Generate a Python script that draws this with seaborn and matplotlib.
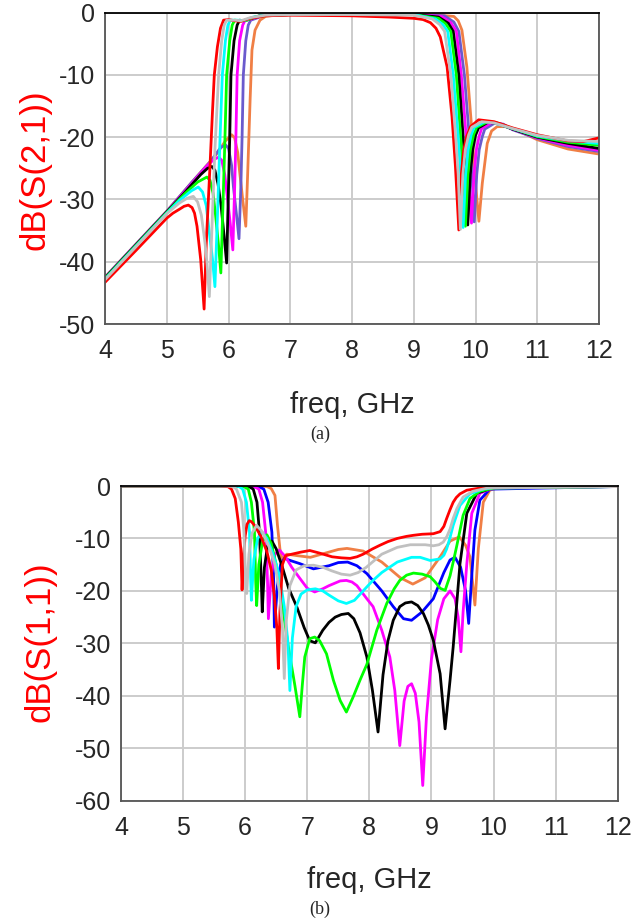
import matplotlib
matplotlib.use("Agg")
import matplotlib.pyplot as plt
import seaborn as sns
from matplotlib.ticker import MultipleLocator

sns.set_style("white")
plt.rcParams['font.family'] = ['Liberation Sans', 'DejaVu Sans']
plt.rcParams['axes.unicode_minus'] = False

# ---------------- (a) dB(S(2,1)) ----------------
S21_RED_F = [4, 4.5, 5.0, 5.1, 5.2, 5.28, 5.35, 5.41, 5.45, 5.49, 5.55, 5.605, 5.64, 5.70, 5.74, 5.77, 5.82, 5.87, 5.92, 6.0, 6.1, 6.2, 6.35, 6.6, 7.0, 8.0, 8.6, 9.0, 9.15, 9.27, 9.36, 9.43, 9.54, 9.62, 9.675, 9.73, 9.77, 9.81, 9.86, 9.92, 10.05, 10.3, 10.6, 11.0, 11.5, 11.75, 12]
S21_RED_DB = [-43.3, -38.2, -33.0, -32.2, -31.6, -31.1, -30.9, -31.3, -32.2, -34.3, -39.7, -47.6, -37, -24.7, -16, -10, -5.5, -2.5, -1.2, -1.1, -1.3, -1.4, -0.9, -0.5, -0.4, -0.5, -0.7, -0.9, -1.1, -1.6, -2.5, -3.9, -8.7, -16.7, -24.7, -34.9, -26, -22, -19.8, -18.3, -17.2, -17.5, -18.5, -19.6, -20.6, -20.7, -20.1]

S21_SILVER_F = [4, 4.5, 5.0, 5.2, 5.33, 5.43, 5.5, 5.56, 5.62, 5.65, 5.69, 5.73, 5.78, 5.84, 5.89, 5.93, 5.97, 6.1, 6.2, 6.35, 6.6, 7.0, 8.0, 9.0, 9.3, 9.42, 9.5, 9.6, 9.68, 9.72, 9.755, 9.795, 9.835, 9.89, 9.94, 10.1, 10.3, 10.6, 11.0, 11.5, 12]
S21_SILVER_DB = [-42.9, -37.6, -32.3, -30.6, -29.8, -29.5, -30.4, -32.5, -37, -40, -45.6, -35, -22, -10, -4.5, -2, -1.2, -1.2, -1.3, -0.8, -0.4, -0.3, -0.3, -0.4, -1.0, -1.9, -3.0, -10, -20, -26, -34.8, -26, -22, -19.6, -18.4, -17.5, -17.7, -18.6, -19.7, -20.5, -20.7]

S21_CYAN_F = [4, 4.5, 5.0, 5.2, 5.4, 5.51, 5.58, 5.64, 5.68, 5.74, 5.78, 5.82, 5.86, 5.90, 5.95, 5.99, 6.03, 6.15, 6.25, 6.4, 6.6, 7.0, 8.0, 9.0, 9.35, 9.47, 9.55, 9.64, 9.72, 9.76, 9.80, 9.84, 9.88, 9.93, 9.98, 10.15, 10.3, 10.6, 11.0, 11.5, 12]
S21_CYAN_DB = [-42.8, -37.5, -32.2, -30.2, -28.6, -28.0, -28.8, -31, -34.5, -39.5, -44.0, -33, -21, -10, -4.5, -2, -1.2, -1.2, -1.3, -0.7, -0.4, -0.3, -0.3, -0.3, -1.0, -1.9, -3.0, -10, -20, -26, -34.5, -26, -22, -19.6, -18.4, -17.5, -17.7, -18.6, -19.8, -20.6, -21.0]

S21_GREEN_F = [4, 4.5, 5.0, 5.3, 5.5, 5.65, 5.7, 5.75, 5.79, 5.84, 5.876, 5.91, 5.94, 5.97, 6.02, 6.06, 6.10, 6.2, 6.3, 6.45, 6.7, 7.0, 8.0, 9.0, 9.4, 9.52, 9.6, 9.69, 9.76, 9.80, 9.837, 9.877, 9.917, 9.97, 10.02, 10.2, 10.35, 10.6, 11.0, 11.5, 12]
S21_GREEN_DB = [-42.7, -37.4, -32.1, -29.0, -27.2, -26.4, -26.9, -29, -32.5, -37.5, -41.8, -31, -21, -10, -4.5, -2, -1.2, -1.3, -1.2, -0.6, -0.4, -0.3, -0.3, -0.3, -0.9, -1.8, -3.0, -10, -20, -26, -34.3, -26, -22, -19.6, -18.4, -17.5, -17.7, -18.6, -19.9, -20.8, -21.3]

S21_BLACK_F = [4, 4.5, 5.0, 5.3, 5.55, 5.66, 5.73, 5.78, 5.83, 5.88, 5.93, 5.97, 6.0, 6.02, 6.04, 6.09, 6.14, 6.18, 6.25, 6.35, 6.5, 6.7, 7.0, 8.0, 9.0, 9.4, 9.56, 9.64, 9.73, 9.80, 9.84, 9.875, 9.915, 9.955, 10.0, 10.05, 10.2, 10.35, 10.6, 11.0, 11.5, 12]
S21_BLACK_DB = [-42.6, -37.3, -32.0, -28.8, -26.0, -25.0, -24.7, -25.3, -27.5, -31, -36, -40.2, -28, -20, -10, -4.5, -2, -1.2, -1.3, -1.0, -0.5, -0.4, -0.3, -0.3, -0.3, -0.7, -1.7, -3.0, -10, -20, -26, -34.1, -26, -22, -19.7, -18.5, -17.6, -17.8, -18.7, -20.0, -21.0, -21.8]

S21_MAGENTA_F = [4, 4.5, 5.0, 5.4, 5.65, 5.76, 5.84, 5.89, 5.94, 5.98, 6.03, 6.07, 6.10, 6.12, 6.14, 6.18, 6.23, 6.27, 6.35, 6.45, 6.6, 6.8, 7.0, 8.0, 9.0, 9.45, 9.6, 9.69, 9.77, 9.85, 9.89, 9.935, 9.975, 10.015, 10.06, 10.1, 10.25, 10.4, 10.6, 11.0, 11.5, 12]
S21_MAGENTA_DB = [-42.6, -37.3, -32.0, -27.5, -24.6, -23.6, -23.2, -23.7, -26, -29.5, -34, -38.1, -28, -20, -10, -4.5, -2, -1.2, -1.1, -0.7, -0.4, -0.3, -0.3, -0.3, -0.3, -0.6, -1.6, -3.0, -10, -20, -26, -33.8, -26, -22, -19.8, -18.6, -17.7, -17.8, -18.7, -20.1, -21.3, -22.1]

S21_PURPLE_F = [4, 4.5, 5.0, 5.4, 5.7, 5.87, 5.95, 6.0, 6.05, 6.08, 6.13, 6.17, 6.2, 6.22, 6.24, 6.28, 6.32, 6.36, 6.45, 6.55, 6.7, 7.0, 8.0, 9.0, 9.5, 9.65, 9.73, 9.82, 9.90, 9.94, 9.98, 10.02, 10.06, 10.11, 10.15, 10.3, 10.45, 10.6, 11.0, 11.5, 12]
S21_PURPLE_DB = [-42.5, -37.2, -31.9, -27.3, -24.0, -21.7, -21.2, -21.8, -24.5, -28, -32.5, -36.3, -28, -20, -10, -4.5, -2, -1.2, -0.9, -0.5, -0.4, -0.3, -0.3, -0.3, -0.5, -1.5, -3.0, -10, -20, -26, -33.6, -26, -22, -19.9, -18.7, -17.8, -17.9, -18.8, -20.2, -21.5, -22.3]

S21_CORAL_F = [4, 4.5, 5.0, 5.4, 5.8, 5.95, 6.05, 6.1, 6.15, 6.18, 6.23, 6.28, 6.31, 6.33, 6.35, 6.38, 6.43, 6.51, 6.6, 6.75, 7.0, 8.0, 9.0, 9.3, 9.65, 9.72, 9.78, 9.86, 9.945, 10.0, 10.055, 10.11, 10.19, 10.26, 10.35, 10.5, 10.7, 11.0, 11.5, 12]
S21_CORAL_DB = [-42.5, -37.2, -31.9, -27.3, -22.8, -20.6, -19.6, -20.1, -22.5, -25.5, -30, -34.3, -26, -20, -14, -6, -2.8, -1.2, -0.6, -0.4, -0.3, -0.3, -0.3, -0.3, -0.6, -1.3, -2.8, -8.7, -19.4, -27.4, -33.5, -27.4, -21, -19.0, -18.3, -18.3, -19.0, -20.4, -21.9, -22.7]

# ---------------- (b) dB(S(1,1)) ----------------
S11_RED_F = [4, 5.6, 5.72, 5.78, 5.84, 5.89, 5.93, 5.95, 5.97, 6.0, 6.03, 6.065, 6.1, 6.15, 6.25, 6.35, 6.42, 6.47, 6.51, 6.535, 6.56, 6.6, 6.65, 6.75, 6.9, 7.04, 7.2, 7.4, 7.55, 7.69, 7.8, 7.9, 8.05, 8.17, 8.3, 8.45, 8.6, 8.71, 8.85, 9.03, 9.14, 9.2, 9.245, 9.3, 9.35, 9.4, 9.46, 9.57, 9.78, 10.0, 12]
S11_RED_DB = [0, 0, -0.1, -0.6, -2.4, -6.9, -12, -19.8, -14, -9.5, -7.3, -6.6, -6.8, -7.5, -9.5, -12.5, -16, -21, -27, -34.8, -24, -15, -13.3, -13.0, -12.6, -12.3, -12.8, -13.5, -13.7, -13.8, -13.5, -13.0, -12.0, -11.3, -10.6, -10.0, -9.6, -9.4, -9.2, -9.1, -8.7, -7.7, -6.2, -4.5, -3.1, -2.2, -1.5, -0.8, -0.4, -0.2, -0.1]

S11_SILVER_F = [4, 5.7, 5.8, 5.86, 5.94, 5.98, 6.01, 6.025, 6.06, 6.11, 6.185, 6.28, 6.38, 6.48, 6.55, 6.6, 6.63, 6.66, 6.72, 6.82, 6.95, 7.1, 7.25, 7.4, 7.55, 7.69, 7.82, 7.95, 8.2, 8.45, 8.66, 8.9, 9.03, 9.12, 9.19, 9.25, 9.30, 9.35, 9.41, 9.51, 9.67, 9.9, 12]
S11_SILVER_DB = [0, 0, -0.1, -0.6, -3.1, -8.8, -18.3, -20.5, -13, -9, -7.5, -8.8, -11.5, -15, -20, -27, -36.7, -26, -19, -16, -15.2, -15.1, -15.5, -16.2, -16.8, -17.0, -16.5, -15.5, -13.0, -11.7, -11.2, -11.2, -11.4, -11.2, -10.7, -9.6, -8.2, -6.2, -4.3, -2.1, -1.0, -0.4, -0.1]

S11_CYAN_F = [4, 5.8, 5.9, 5.96, 6.02, 6.07, 6.09, 6.10, 6.14, 6.2, 6.27, 6.35, 6.45, 6.55, 6.63, 6.69, 6.72, 6.76, 6.82, 6.9, 7.0, 7.13, 7.25, 7.35, 7.5, 7.63, 7.76, 7.9, 8.05, 8.2, 8.45, 8.68, 8.82, 8.98, 9.14, 9.2, 9.245, 9.3, 9.35, 9.46, 9.62, 9.83, 10.0, 12]
S11_CYAN_DB = [0, 0, -0.1, -0.6, -3.1, -8.8, -18.3, -21.8, -14, -10, -8.8, -10, -13, -17, -23, -30, -39, -29, -23, -20.6, -19.8, -19.6, -20.0, -20.8, -21.9, -22.4, -21.8, -20, -18.1, -16.5, -14.5, -13.6, -13.6, -14.2, -13.9, -13.2, -12, -9.8, -7.5, -3.7, -1.5, -0.6, -0.3, -0.1]

S11_GREEN_F = [4, 5.88, 5.98, 6.05, 6.10, 6.15, 6.17, 6.185, 6.22, 6.28, 6.35, 6.42, 6.5, 6.6, 6.7, 6.8, 6.88, 6.92, 6.96, 7.04, 7.12, 7.2, 7.31, 7.42, 7.53, 7.63, 7.74, 7.85, 7.96, 8.12, 8.28, 8.4, 8.49, 8.6, 8.71, 8.85, 8.98, 9.06, 9.14, 9.22, 9.30, 9.36, 9.41, 9.51, 9.62, 9.78, 10.0, 12]
S11_GREEN_DB = [0, 0, -0.1, -0.6, -3.1, -8.8, -18.3, -22.8, -15, -10.5, -9.3, -11, -15, -23, -31, -38, -44, -38, -32.6, -29.1, -28.8, -29.5, -32, -37, -40.9, -43.1, -40.2, -37, -34, -27.5, -22.4, -19.6, -18, -17.0, -16.6, -16.8, -17.3, -18.3, -19.5, -19.9, -17.1, -14.0, -11.3, -5.6, -2.4, -1.0, -0.4, -0.1]

S11_BLACK_F = [4, 5.96, 6.06, 6.13, 6.19, 6.23, 6.26, 6.275, 6.31, 6.36, 6.43, 6.5, 6.6, 6.7, 6.83, 6.95, 7.04, 7.13, 7.25, 7.35, 7.45, 7.55, 7.66, 7.75, 7.85, 7.96, 8.05, 8.14, 8.22, 8.30, 8.385, 8.49, 8.58, 8.68, 8.78, 8.87, 8.95, 9.03, 9.14, 9.22, 9.30, 9.35, 9.46, 9.57, 9.73, 10.0, 12]
S11_BLACK_DB = [0, 0, -0.1, -0.6, -3.1, -8.8, -18.3, -24.0, -15.5, -11.5, -10.5, -12, -15.5, -19.5, -23, -27, -29.5, -29.9, -27.5, -26.0, -25.0, -24.5, -24.3, -25.3, -28, -32.6, -39, -46.9, -36, -29.5, -25.6, -23, -22.3, -22.1, -22.8, -24.3, -26.5, -29.4, -35.8, -46.3, -37, -30.7, -14.8, -5.2, -1.4, -0.3, -0.1]

S11_MAGENTA_F = [4, 6.05, 6.14, 6.22, 6.28, 6.33, 6.36, 6.374, 6.42, 6.48, 6.55, 6.65, 6.75, 6.88, 7.0, 7.12, 7.25, 7.35, 7.53, 7.63, 7.72, 7.8, 7.96, 8.06, 8.2, 8.33, 8.41, 8.49, 8.56, 8.62, 8.68, 8.74, 8.8, 8.86, 8.92, 9.0, 9.1, 9.2, 9.3, 9.38, 9.43, 9.475, 9.51, 9.57, 9.65, 9.78, 10.0, 12]
S11_MAGENTA_DB = [0, 0, -0.1, -0.6, -3.1, -8.8, -18.3, -25.3, -17, -13, -12.2, -13.5, -15.5, -17.6, -19.5, -20.2, -19.6, -19.0, -18.1, -18.0, -18.3, -19, -21.5, -23, -27.5, -32.6, -39, -49.5, -41, -38.2, -37.7, -39.5, -45, -57.1, -44, -33, -25.5, -21.5, -20.0, -21.5, -25, -31.6, -24, -14.8, -5.2, -1.4, -0.3, -0.1]

S11_BLUE_F = [4, 6.14, 6.22, 6.30, 6.37, 6.43, 6.46, 6.47, 6.52, 6.57, 6.63, 6.75, 6.88, 7.1, 7.35, 7.5, 7.65, 7.8, 7.96, 8.2, 8.385, 8.55, 8.68, 8.85, 9.03, 9.2, 9.3, 9.38, 9.47, 9.55, 9.60, 9.65, 9.70, 9.78, 9.94, 12]
S11_BLUE_DB = [0, 0, -0.1, -0.6, -3.1, -8.8, -18.3, -26.9, -19, -15, -13.8, -14.3, -14.8, -15.8, -15.2, -14.6, -14.5, -15.2, -16.7, -20, -23, -25.3, -25.6, -24, -21.5, -16.5, -14.1, -13.6, -15.5, -20, -26.2, -17, -8.4, -2.7, -0.6, -0.1]

S11_CORAL_F = [4, 6.25, 6.35, 6.42, 6.48, 6.52, 6.56, 6.59, 6.67, 6.85, 7.05, 7.35, 7.5, 7.64, 7.9, 8.2, 8.5, 8.7, 8.9, 9.14, 9.3, 9.45, 9.55, 9.62, 9.70, 9.755, 9.835, 9.94, 10.1, 12]
S11_CORAL_DB = [0, 0, -0.1, -0.5, -1.8, -7.5, -12, -13.9, -13.0, -13.3, -13.6, -12.6, -12.1, -11.9, -12.4, -14.5, -17.5, -18.7, -17.5, -13.5, -10.5, -9.7, -11.3, -13.5, -22.7, -12, -3.1, -0.8, -0.2, -0.1]

RED = '#ff0000'
SILVER = '#c0c0c0'
CYAN = '#00ffff'
LIME = '#00ff00'
BLACK = '#000000'
MAGENTA = '#ff00ff'
SLATE = '#6a5acd'
BLUE = '#0000ff'
CORAL = '#f07f45'

top_series = [
    (S21_CORAL_F, S21_CORAL_DB, CORAL),
    (S21_PURPLE_F, S21_PURPLE_DB, SLATE),
    (S21_MAGENTA_F, S21_MAGENTA_DB, MAGENTA),
    (S21_BLACK_F, S21_BLACK_DB, BLACK),
    (S21_GREEN_F, S21_GREEN_DB, LIME),
    (S21_CYAN_F, S21_CYAN_DB, CYAN),
    (S21_RED_F, S21_RED_DB, RED),
    (S21_SILVER_F, S21_SILVER_DB, SILVER),
]
bot_series = [
    (S11_CORAL_F, S11_CORAL_DB, CORAL),
    (S11_BLUE_F, S11_BLUE_DB, BLUE),
    (S11_MAGENTA_F, S11_MAGENTA_DB, MAGENTA),
    (S11_BLACK_F, S11_BLACK_DB, BLACK),
    (S11_GREEN_F, S11_GREEN_DB, LIME),
    (S11_CYAN_F, S11_CYAN_DB, CYAN),
    (S11_RED_F, S11_RED_DB, RED),
    (S11_SILVER_F, S11_SILVER_DB, SILVER),
]

fig = plt.figure(figsize=(6.36, 9.21), dpi=100)
ax1 = fig.add_axes([105/636, 1-324/921, 494/636, 311.3/921])
ax2 = fig.add_axes([121/636, 1-800.7/921, 496.7/636, 314.7/921])

for ax, series, ylo in ((ax1, top_series, -50), (ax2, bot_series, -60)):
    for f, d, c in series:
        sns.lineplot(x=f, y=d, ax=ax, color=c, lw=2.0, sort=False, estimator=None)
    ax.set_xlim(4, 12)
    ax.set_ylim(ylo, 0)
    ax.xaxis.set_major_locator(MultipleLocator(1))
    ax.xaxis.set_minor_locator(MultipleLocator(0.2))
    ax.yaxis.set_major_locator(MultipleLocator(10))
    ax.yaxis.set_minor_locator(MultipleLocator(2))
    ax.grid(True, which='major', color='#cccccc', lw=1.4)
    ax.set_axisbelow(True)
    ax.tick_params(which='both', direction='out', length=5, width=1.0, color='#555555',
                   labelsize=18)
    ax.tick_params(axis='x', pad=6)
    ax.tick_params(axis='y', pad=2)
    for s in ax.spines.values():
        s.set_color('#555555')
        s.set_linewidth(1.3)
    ax.spines['top'].set_color('#000000')
    ax.set_xlabel('freq, GHz', fontsize=21)

ax1.set_ylabel('dB(S(2,1))', fontsize=25, color='#ff0000')
ax2.set_ylabel('dB(S(1,1))', fontsize=25, color='#ff0000')
ax1.xaxis.set_label_coords(0.5, (324 - 405) / 311.3)
ax2.xaxis.set_label_coords(0.5, (800.7 - 880) / 314.7)
ax1.xaxis.label.set_va('center')
ax2.xaxis.label.set_va('center')
ax1.yaxis.label.set_va('center')
ax2.yaxis.label.set_va('center')
ax1.yaxis.set_label_coords((35 - 105) / 494, (324 - 170) / 311.3)
ax2.yaxis.set_label_coords((40 - 121) / 496.7, (800.7 - 642) / 314.7)

fig.text(320/636, 1-434/921, '(a)', ha='center', va='center', fontsize=13, family='Liberation Serif')
fig.text(320/636, 1-909/921, '(b)', ha='center', va='center', fontsize=13, family='Liberation Serif')

fig.savefig('out.png', dpi=100)
